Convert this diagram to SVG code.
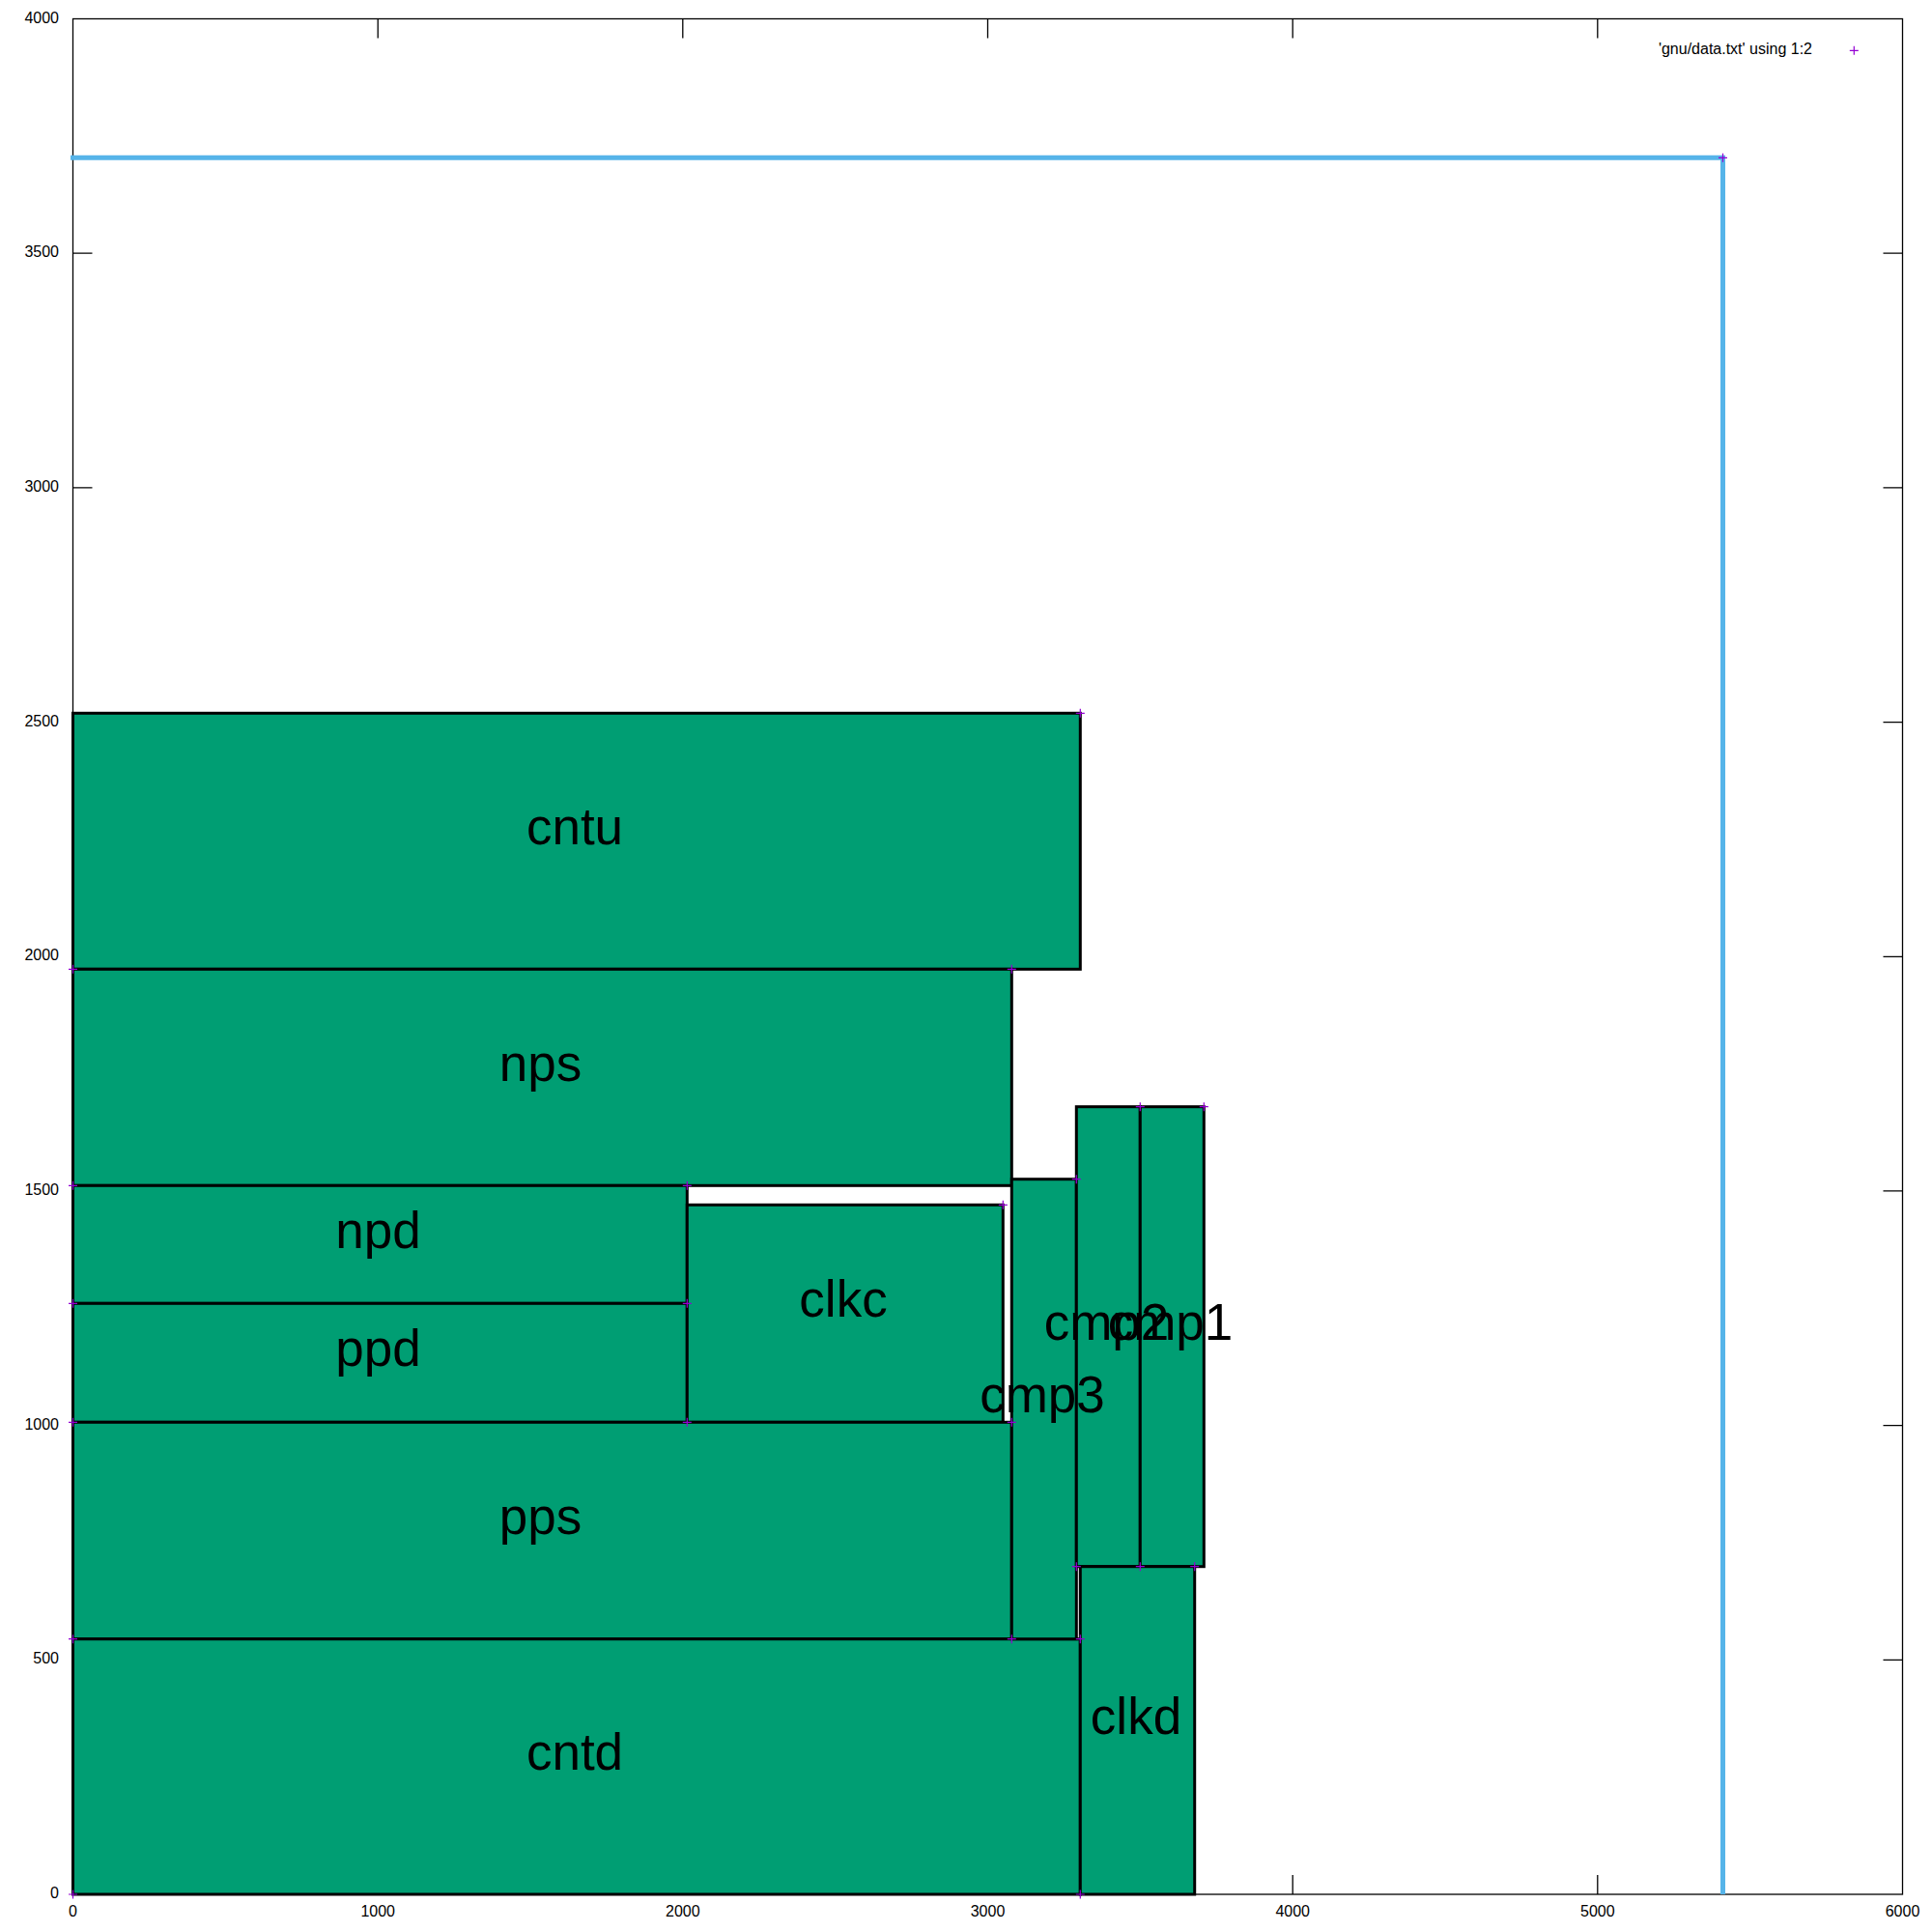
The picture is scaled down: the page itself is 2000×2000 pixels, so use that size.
<svg xmlns="http://www.w3.org/2000/svg" width="2000" height="2000" viewBox="0 0 2000 2000">
<style>
.ax{stroke:#000;stroke-width:1.3;fill:none}
.tk{font-family:"Liberation Sans",Arial,sans-serif;font-size:16px;fill:#000}
.blk{fill:#009e73;stroke:#000;stroke-width:3}
.lbl{font-family:"Liberation Sans",Arial,sans-serif;font-size:53px;fill:#000;text-anchor:middle}
.pt{stroke:#9400d3;stroke-width:1.2;fill:none}
</style>
<defs>
<path id="p" d="M-4.5,0H4.5M0,-4.5V4.5" class="pt"/>
</defs>
<rect width="2000" height="2000" fill="#fff"/>
<g id="axes">
<g class="ax">
<path d="M391.2,1961v-20M706.8,1961v-20M1022.5,1961v-20M1338.2,1961v-20M1653.8,1961v-20"/>
<path d="M391.2,19.5v20M706.8,19.5v20M1022.5,19.5v20M1338.2,19.5v20M1653.8,19.5v20"/>
<path d="M75.5,1718.3h20M75.5,1475.6h20M75.5,1232.9h20M75.5,990.3h20M75.5,747.6h20M75.5,504.9h20M75.5,262.2h20"/>
<path d="M1969.5,1718.3h-20M1969.5,1475.6h-20M1969.5,1232.9h-20M1969.5,990.3h-20M1969.5,747.6h-20M1969.5,504.9h-20M1969.5,262.2h-20"/>
<rect x="75.5" y="19.5" width="1894" height="1941.5"/>
</g>
<g class="tk" text-anchor="end">
<text x="61" y="1965">0</text>
<text x="61" y="1722.3">500</text>
<text x="61" y="1479.6">1000</text>
<text x="61" y="1236.9">1500</text>
<text x="61" y="994.3">2000</text>
<text x="61" y="751.6">2500</text>
<text x="61" y="508.9">3000</text>
<text x="61" y="266.2">3500</text>
<text x="61" y="23.5">4000</text>
</g>
<g class="tk" text-anchor="middle">
<text x="75.5" y="1983.5">0</text>
<text x="391.2" y="1983.5">1000</text>
<text x="706.8" y="1983.5">2000</text>
<text x="1022.5" y="1983.5">3000</text>
<text x="1338.2" y="1983.5">4000</text>
<text x="1653.8" y="1983.5">5000</text>
<text x="1969.5" y="1983.5">6000</text>
</g>
</g>
<g id="blocks">
<g id="cntu"><rect class="blk" x="75.5" y="738.3" width="1042.8" height="265"/></g>
<g id="nps"><rect class="blk" x="75.5" y="1003.3" width="971.8" height="224"/></g>
<g id="npd"><rect class="blk" x="75.5" y="1227.3" width="635.8" height="122"/></g>
<g id="ppd"><rect class="blk" x="75.5" y="1349.3" width="635.8" height="123"/></g>
<g id="clkc"><rect class="blk" x="711.3" y="1247.3" width="327" height="225"/></g>
<g id="pps"><rect class="blk" x="75.5" y="1472.3" width="971.8" height="224.4"/></g>
<g id="cntd"><rect class="blk" x="75.5" y="1696.7" width="1042.8" height="264.3"/></g>
<g id="cmp3"><rect class="blk" x="1047.3" y="1220.7" width="67" height="476"/></g>
<g id="cmp2"><rect class="blk" x="1114.3" y="1145.7" width="66" height="476"/></g>
<g id="cmp1"><rect class="blk" x="1180.3" y="1145.7" width="66" height="476"/></g>
<g id="clkd"><rect class="blk" x="1118.3" y="1621.7" width="118.4" height="339.3"/></g>
</g>
<g id="labels">
<text class="lbl" x="595" y="874.3">cntu</text>
<text class="lbl" x="559.5" y="1118.8">nps</text>
<text class="lbl" x="391.5" y="1291.8">npd</text>
<text class="lbl" x="391.5" y="1414.3">ppd</text>
<text class="lbl" x="873" y="1363.3">clkc</text>
<text class="lbl" x="559.5" y="1588">pps</text>
<text class="lbl" x="595" y="1832.3">cntd</text>
<text class="lbl" x="1079" y="1462.2">cmp3</text>
<text class="lbl" x="1176" y="1794.8">clkd</text>
<text class="lbl" x="1145.5" y="1387.2">cmp2</text>
<text class="lbl" x="1211.5" y="1387.2">cmp1</text>
</g>
<g id="connectors">
<path d="M73,163.3H1783.5V1961" fill="none" stroke="#56b4e9" stroke-width="5"/>
</g>
<g id="points">
<use href="#p" x="75.5" y="1961"/><use href="#p" x="1118.3" y="1696.7"/>
<use href="#p" x="75.5" y="1696.7"/><use href="#p" x="1047.3" y="1472.3"/>
<use href="#p" x="75.5" y="1472.3"/><use href="#p" x="711.3" y="1349.3"/>
<use href="#p" x="75.5" y="1349.3"/><use href="#p" x="711.3" y="1227.3"/>
<use href="#p" x="75.5" y="1227.3"/><use href="#p" x="1047.3" y="1003.3"/>
<use href="#p" x="75.5" y="1003.3"/><use href="#p" x="1118.3" y="738.3"/>
<use href="#p" x="711.3" y="1472.3"/><use href="#p" x="1038.3" y="1247.3"/>
<use href="#p" x="1047.3" y="1696.7"/><use href="#p" x="1114.3" y="1220.7"/>
<use href="#p" x="1114.3" y="1621.7"/><use href="#p" x="1180.3" y="1145.7"/>
<use href="#p" x="1180.3" y="1621.7"/><use href="#p" x="1246.3" y="1145.7"/>
<use href="#p" x="1118.3" y="1961"/><use href="#p" x="1236.7" y="1621.7"/>
<use href="#p" x="1783.5" y="163.3"/>
</g>
<g id="legend">
<text class="tk" x="1876" y="56" text-anchor="end">'gnu/data.txt' using 1:2</text>
<use href="#p" x="1919.3" y="52.3"/>
</g>
</svg>
